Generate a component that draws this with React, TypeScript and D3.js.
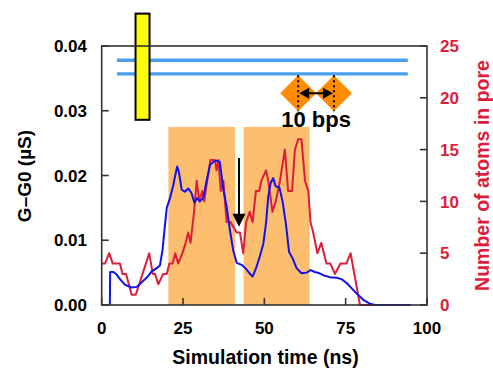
import React from "react";
import * as d3 from "d3";

const W = 493;
const H = 368;

// Conductance (blue), left axis, µS
const blueT = [2.5, 2.6, 3.6, 4.6, 5.6, 7.2, 9.2, 10.8, 12.3, 13.8, 15.4, 16.9, 17.9, 18.7, 19.4, 20, 21, 22, 22.6, 23.2, 23.7, 24.6, 25.6, 26.6, 27.6, 28.5, 29.3, 30.2, 31.2, 32.3, 33.3, 34.3, 35.3, 36.3, 37.4, 38.4, 39.4, 40.4, 41.5, 43, 44.5, 45.4, 46.4, 47.6, 48.6, 49.7, 50.5, 51.2, 51.9, 52.7, 53.5, 54.6, 55.6, 56.6, 57.6, 58.7, 59.9, 61.4, 63, 64.2, 65.5, 67, 68.1, 70.1, 72.2, 73.7, 75.3, 76.8, 78.3, 80.4, 82.4, 84, 95];
const blueG = [0, 0.0051, 0.0051, 0.0047, 0.004, 0.0031, 0.0027, 0.0028, 0.0035, 0.0042, 0.0052, 0.0057, 0.0061, 0.0085, 0.0121, 0.015, 0.0165, 0.0185, 0.02, 0.0214, 0.0206, 0.0178, 0.0175, 0.018, 0.0173, 0.0158, 0.0165, 0.016, 0.0165, 0.0193, 0.0216, 0.0221, 0.0223, 0.0221, 0.0178, 0.0152, 0.0116, 0.0085, 0.0065, 0.0062, 0.0055, 0.0049, 0.0044, 0.0059, 0.0075, 0.0095, 0.0126, 0.0167, 0.0188, 0.0196, 0.0183, 0.0182, 0.016, 0.0126, 0.0082, 0.0072, 0.0057, 0.0049, 0.005, 0.0054, 0.0051, 0.0049, 0.0046, 0.0043, 0.0042, 0.004, 0.0034, 0.0026, 0.0018, 0.0008, 0.0002, 0, 0];

// Number of atoms in pore (red), right axis
const redT = [0, 1, 2.3, 3.4, 5.6, 6.4, 7.5, 9.2, 10.5, 14.6, 15.7, 16.4, 17.4, 18.9, 20, 20.8, 21.8, 22.6, 23.5, 24.8, 25.8, 26.6, 27.3, 28.4, 29.2, 30, 30.9, 31.5, 33.4, 34.8, 35.3, 35.9, 36.6, 37.4, 38.4, 39.6, 41.5, 42.5, 43.5, 44.4, 45.5, 46.4, 47.4, 48.4, 49.1, 50.5, 51.2, 52.5, 53.5, 54.8, 56.3, 57.3, 58.5, 59.4, 60.4, 61.4, 62.5, 63.5, 64.2, 65, 66.3, 67.5, 69.1, 70.3, 71.7, 73.4, 75.2, 76.5, 79.4, 95];
const redN = [4, 4, 5, 4, 4, 3, 3, 1, 1, 5, 3, 3, 2, 3, 3, 4, 4, 5, 4, 5, 6, 7, 6, 9, 12, 10, 11, 10, 14, 14, 13, 14, 11, 12, 8, 8, 7, 7, 5, 8, 9, 8, 11, 11, 12, 13, 12, 9, 10, 12, 15, 11, 11, 15, 16, 16, 12, 11, 8, 7, 5, 6, 4, 4, 3, 4, 4, 5, 0, 0];

// Shaded windows (ns) and their top (µS)
const shadeStart = [20.5, 43.6];
const shadeEnd = [41.0, 63.9];
const shadeTop = 0.0275;

// Top annotations
const stripeY = [0.0378, 0.0357];
const stripeX: [number, number] = [4.7, 94.1];
const yellowX: [number, number] = [10.4, 14.7];
const yellowY: [number, number] = [0.045, 0.0286];
const diamondT = [60.4, 71.4];
const diamondY = 0.0327;
const downArrowT = 42.2;
const downArrowY: [number, number] = [0.0227, 0.0121];

const xTicks = [0, 25, 50, 75, 100];
const yLTicks = [0, 0.01, 0.02, 0.03, 0.04];
const yRTicks = [0, 5, 10, 15, 20, 25];

const FONT = "'Liberation Sans', Arial, Helvetica, sans-serif";
const RED = "#dc1e3c";
const BLUE = "#1010f0";

export default function App() {
  const x = d3.scaleLinear().domain([0, 100]).range([101.7, 427]);
  const yL = d3.scaleLinear().domain([0, 0.04]).range([305, 46]);
  const yR = d3.scaleLinear().domain([0, 25]).range([305, 46]);

  const blueLine = d3
    .line<number>()
    .x((_, i) => x(blueT[i]))
    .y((d) => yL(d))(blueG) as string;
  const redLine = d3
    .line<number>()
    .x((_, i) => x(redT[i]))
    .y((d) => yR(d))(redN) as string;

  const [x0, x1] = x.range();
  const [yb, yt] = yL.range();
  const tick = 7;

  const dh = 18;
  const dx1 = x(diamondT[0]);
  const dx2 = x(diamondT[1]);
  const dy = yL(diamondY);

  const ax = x(downArrowT);
  const ay0 = yL(downArrowY[0]);
  const ay1 = yL(downArrowY[1]);

  return (
    <svg
      width={W}
      height={H}
      style={{ position: "absolute", left: 0, top: 0, background: "#fff" }}
      fontFamily={FONT}
      fontWeight="bold"
    >
      {/* shaded windows */}
      {shadeStart.map((s, i) => (
        <rect
          key={"sh" + i}
          x={x(s)}
          y={yL(shadeTop)}
          width={x(shadeEnd[i]) - x(s)}
          height={yb - yL(shadeTop)}
          fill="#fdbf6f"
        />
      ))}

      {/* light-blue stripes */}
      {stripeY.map((v, i) => (
        <line
          key={"st" + i}
          x1={x(stripeX[0])}
          x2={x(stripeX[1])}
          y1={yL(v)}
          y2={yL(v)}
          stroke="#4a9ff0"
          strokeWidth={3.4}
        />
      ))}

      {/* yellow bar */}
      <rect
        x={x(yellowX[0])}
        y={yL(yellowY[0])}
        width={x(yellowX[1]) - x(yellowX[0])}
        height={yL(yellowY[1]) - yL(yellowY[0])}
        fill="#ffff00"
        stroke="#000"
        strokeWidth={2}
      />

      {/* data lines */}
      <path d={redLine} fill="none" stroke={RED} strokeWidth={2} strokeLinejoin="round" />
      <path d={blueLine} fill="none" stroke={BLUE} strokeWidth={2} strokeLinejoin="round" />

      {/* diamonds */}
      {[dx1, dx2].map((cx, i) => (
        <polygon
          key={"dm" + i}
          points={`${cx - dh},${dy} ${cx},${dy - dh} ${cx + dh},${dy} ${cx},${dy + dh}`}
          fill="#ff8c00"
        />
      ))}
      {[dx1, dx2].map((cx, i) => (
        <line
          key={"dl" + i}
          x1={cx}
          x2={cx}
          y1={dy - dh}
          y2={dy + dh}
          stroke="#000"
          strokeWidth={2}
          strokeDasharray="2,3"
        />
      ))}
      <line x1={dx1 + 8} x2={dx2 - 8} y1={dy} y2={dy} stroke="#000" strokeWidth={2} />
      <polygon points={`${dx1 + 1},${dy} ${dx1 + 11},${dy - 5.5} ${dx1 + 11},${dy + 5.5}`} fill="#000" />
      <polygon points={`${dx2 - 1},${dy} ${dx2 - 11},${dy - 5.5} ${dx2 - 11},${dy + 5.5}`} fill="#000" />
      <text x={(dx1 + dx2) / 2} y={126.5} textAnchor="middle" fontSize={22} fill="#000">
        10 bps
      </text>

      {/* down arrow */}
      <line x1={ax} x2={ax} y1={ay0} y2={ay1 - 10} stroke="#000" strokeWidth={2} />
      <polygon points={`${ax},${ay1} ${ax - 6.5},${ay1 - 13} ${ax + 6.5},${ay1 - 13}`} fill="#000" />

      {/* frame */}
      <rect x={x0} y={yt} width={x1 - x0} height={yb - yt} fill="none" stroke="#333" strokeWidth={1.6} />

      {/* x ticks */}
      {xTicks.map((t) => (
        <g key={"xt" + t}>
          <line x1={x(t)} x2={x(t)} y1={yb} y2={yb - tick} stroke="#333" strokeWidth={1.6} />
          <text x={x(t)} y={334} textAnchor="middle" fontSize={17} fill="#000">
            {t}
          </text>
        </g>
      ))}

      {/* left ticks */}
      {yLTicks.map((t) => (
        <g key={"yl" + t}>
          <line x1={x0} x2={x0 + tick} y1={yL(t)} y2={yL(t)} stroke="#333" strokeWidth={1.6} />
          <text x={87} y={yL(t)} dy="0.36em" textAnchor="end" fontSize={17} fill="#000">
            {d3.format(".2f")(t)}
          </text>
        </g>
      ))}

      {/* right ticks */}
      {yRTicks.map((t) => (
        <g key={"yr" + t}>
          <line x1={x1} x2={x1 - tick} y1={yR(t)} y2={yR(t)} stroke="#333" strokeWidth={1.6} />
          <text x={440} y={yR(t)} dy="0.36em" textAnchor="start" fontSize={17} fill={RED}>
            {t}
          </text>
        </g>
      ))}

      {/* axis titles */}
      <text x={265.5} y={364} textAnchor="middle" fontSize={19.5} fill="#000">
        Simulation time (ns)
      </text>
      <text
        transform={`translate(31,176) rotate(-90)`}
        textAnchor="middle"
        fontSize={19}
        fill="#000"
      >
        G–G0 (µS)
      </text>
      <text
        transform={`translate(489,175.5) rotate(-90)`}
        textAnchor="middle"
        fontSize={19.5}
        fill={RED}
      >
        Number of atoms in pore
      </text>
    </svg>
  );
}
